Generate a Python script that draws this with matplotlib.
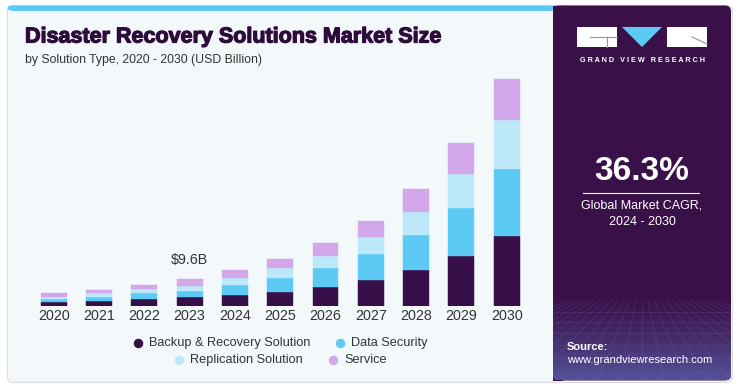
import numpy as np
import matplotlib
matplotlib.use("Agg")
import matplotlib.pyplot as plt
import matplotlib.patheffects as pe
from matplotlib.patches import Rectangle, FancyBboxPatch, Polygon

# market size by solution type, USD billion
years = ["2020", "2021", "2022", "2023", "2024", "2025", "2026", "2027", "2028", "2029", "2030"]
backup = [1.45, 1.9, 2.45, 3.15, 3.9, 5.2, 7.0, 9.45, 13.1, 18.2, 25.5]
data_security = [1.0, 1.45, 2.2, 2.4, 3.75, 5.1, 6.7, 9.35, 12.7, 17.6, 24.5]
replication = [0.95, 1.45, 1.45, 1.8, 2.65, 3.4, 4.6, 6.2, 8.5, 12.1, 17.5]
service = [1.2, 1.2, 1.55, 2.3, 2.7, 3.4, 4.5, 6.0, 8.25, 11.3, 15.1]

series_names = ["Backup & Recovery Solution", "Data Security", "Replication Solution", "Service"]
series_colors = ["#37104a", "#5ccaf5", "#bde8f9", "#d3a8eb"]
callout_year = "2023"
callout_text = "$9.6B"

W, H = 739, 391
DARK = "#3a1049"
TITLE = "#2d0c3c"
FONT = "Liberation Sans"

fig = plt.figure(figsize=(W / 100, H / 100), dpi=100)
fig.patch.set_facecolor("white")

# background axes in pixel coordinates, y pointing down
bg = fig.add_axes([0, 0, 1, 1], zorder=0)
bg.set_xlim(0, W)
bg.set_ylim(H, 0)
bg.axis("off")

# card + left panel
bg.add_patch(FancyBboxPatch((7.5, 5.5), 725, 377, boxstyle="round,pad=0,rounding_size=6",
                            fc="#f3f8fb", ec="#d9dde0", lw=0.8))
bg.add_patch(FancyBboxPatch((7.5, 5.5), 560, 5, boxstyle="round,pad=0,rounding_size=3",
                            fc="#5ccaf5", ec="none"))
bg.add_patch(Rectangle((12, 7.5), 540, 3, fc="#5ccaf5", ec="none"))

# right dark panel with a gradient at the bottom
panel = FancyBboxPatch((553, 5.5), 178, 375, boxstyle="round,pad=0,rounding_size=6",
                       fc=DARK, ec="none")
bg.add_patch(panel)
bg.add_patch(Rectangle((553, 5.5), 10, 375, fc=DARK, ec="none"))
grad = np.linspace(0, 1, 100)[:, None]
c0 = np.array(matplotlib.colors.to_rgb(DARK))
c1 = np.array(matplotlib.colors.to_rgb("#55529a"))
img = c0 + (c1 - c0) * grad[..., None] ** 1.3
img = np.repeat(img, 2, axis=1)
gim = bg.imshow(img, extent=(553, 731, 380.5, 295), aspect="auto", zorder=1)
gim.set_clip_path(panel)
clip = Rectangle((553, 295), 178, 85.5, transform=bg.transData)
# faint perspective grid lines, kept inside the panel
for k in range(-12, 13):
    ln, = bg.plot([642 + k * 6, 642 + k * 22], [300, 380], color="#8d8dc8", lw=0.4, alpha=0.25, zorder=2)
    ln.set_clip_path(clip)
for yy in [312, 322, 333, 345, 358, 372]:
    bg.plot([553, 731], [yy, yy], color="#8d8dc8", lw=0.4, alpha=0.25, zorder=2)

# logo
bg.add_patch(Rectangle((577, 27), 40, 20, fc="white", ec="none", zorder=3))
bg.plot([590, 617], [37, 37], color="#9a8fb0", lw=0.8, zorder=4)
bg.plot([607, 607], [37, 47], color="#9a8fb0", lw=0.8, zorder=4)
bg.add_patch(Polygon([(622, 27), (662, 27), (642, 47)], closed=True, fc="#5ccaf5", ec="none", zorder=3))
bg.add_patch(Rectangle((667, 27), 40, 20, fc="white", ec="none", zorder=3))
bg.plot([692, 707], [37, 44], color="#9a8fb0", lw=0.8, zorder=4)
bg.text(642, 60, "G R A N D   V I E W   R E S E A R C H", color="white", fontsize=5.2,
        fontweight="bold", ha="center", va="center", family=FONT, zorder=4)

bg.text(642, 172, "36.3%", color="white", fontsize=24, fontweight="bold",
        ha="center", va="center", family=FONT, zorder=4)
bg.plot([583, 699], [192.5, 192.5], color="white", lw=0.8, zorder=4)
bg.text(642, 206, "Global Market CAGR,", color="white", fontsize=9,
        ha="center", va="center", family=FONT, zorder=4)
bg.text(642, 222, "2024 - 2030", color="white", fontsize=9,
        ha="center", va="center", family=FONT, zorder=4)
bg.text(567, 347, "Source:", color="white", fontsize=8, fontweight="bold",
        ha="left", va="center", family=FONT, zorder=4)
bg.text(567, 360, "www.grandviewresearch.com", color="white", fontsize=8,
        ha="left", va="center", family=FONT, zorder=4)

# titles
bg.text(25, 37, "Disaster Recovery Solutions Market Size", color=TITLE, fontsize=15.5,
        fontweight="bold", ha="left", va="center", family=FONT,
        path_effects=[pe.withStroke(linewidth=0.9, foreground=TITLE)])
bg.text(25, 60, "by Solution Type, 2020 - 2030 (USD Billion)", color="#333333", fontsize=8.8,
        ha="left", va="center", family=FONT)

# legend, two centred rows
legend_pos = [(138, 343), (340, 343), (179, 360), (333, 360)]
for name, col, (lx, ly) in zip(series_names, series_colors, legend_pos):
    bg.scatter([lx], [ly], s=34, color=col, zorder=3)
    bg.text(lx + 11, ly, name, color="#333333", fontsize=9.2, ha="left", va="center", family=FONT)

# bar axes: baseline at y=306px, 2020 bar centred at x=53.7px, step 45.3px
base_px, top_px, left_px, right_px = 306, 10, 8, 553
px_per_b = 2.75
ax = fig.add_axes([left_px / W, (H - base_px) / H, (right_px - left_px) / W, (base_px - top_px) / H],
                  zorder=1)
ax.patch.set_alpha(0)
ax.set_xlim((left_px - 53.7) / 45.3, (right_px - 53.7) / 45.3)
ax.set_ylim(0, (base_px - top_px) / px_per_b)

x = np.arange(len(years))
bottom = np.zeros(len(years))
for vals, col in zip([backup, data_security, replication, service], series_colors):
    ax.bar(x, vals, width=0.57, bottom=bottom, color=col, edgecolor=col, linewidth=0.3)
    bottom += np.array(vals)

i = years.index(callout_year)
ax.annotate(callout_text, (x[i], bottom[i]), xytext=(0, 9), textcoords="offset points",
            ha="center", va="bottom", fontsize=10.3, color="#333333", family=FONT)

ax.set_xticks(x)
ax.set_xticklabels(years, fontsize=10.3, color="#333333", family=FONT)
ax.tick_params(axis="x", length=0, pad=2.5)
ax.set_yticks([])
for s in ax.spines.values():
    s.set_visible(False)

fig.savefig("out.png", dpi=100)
plt.close(fig)
